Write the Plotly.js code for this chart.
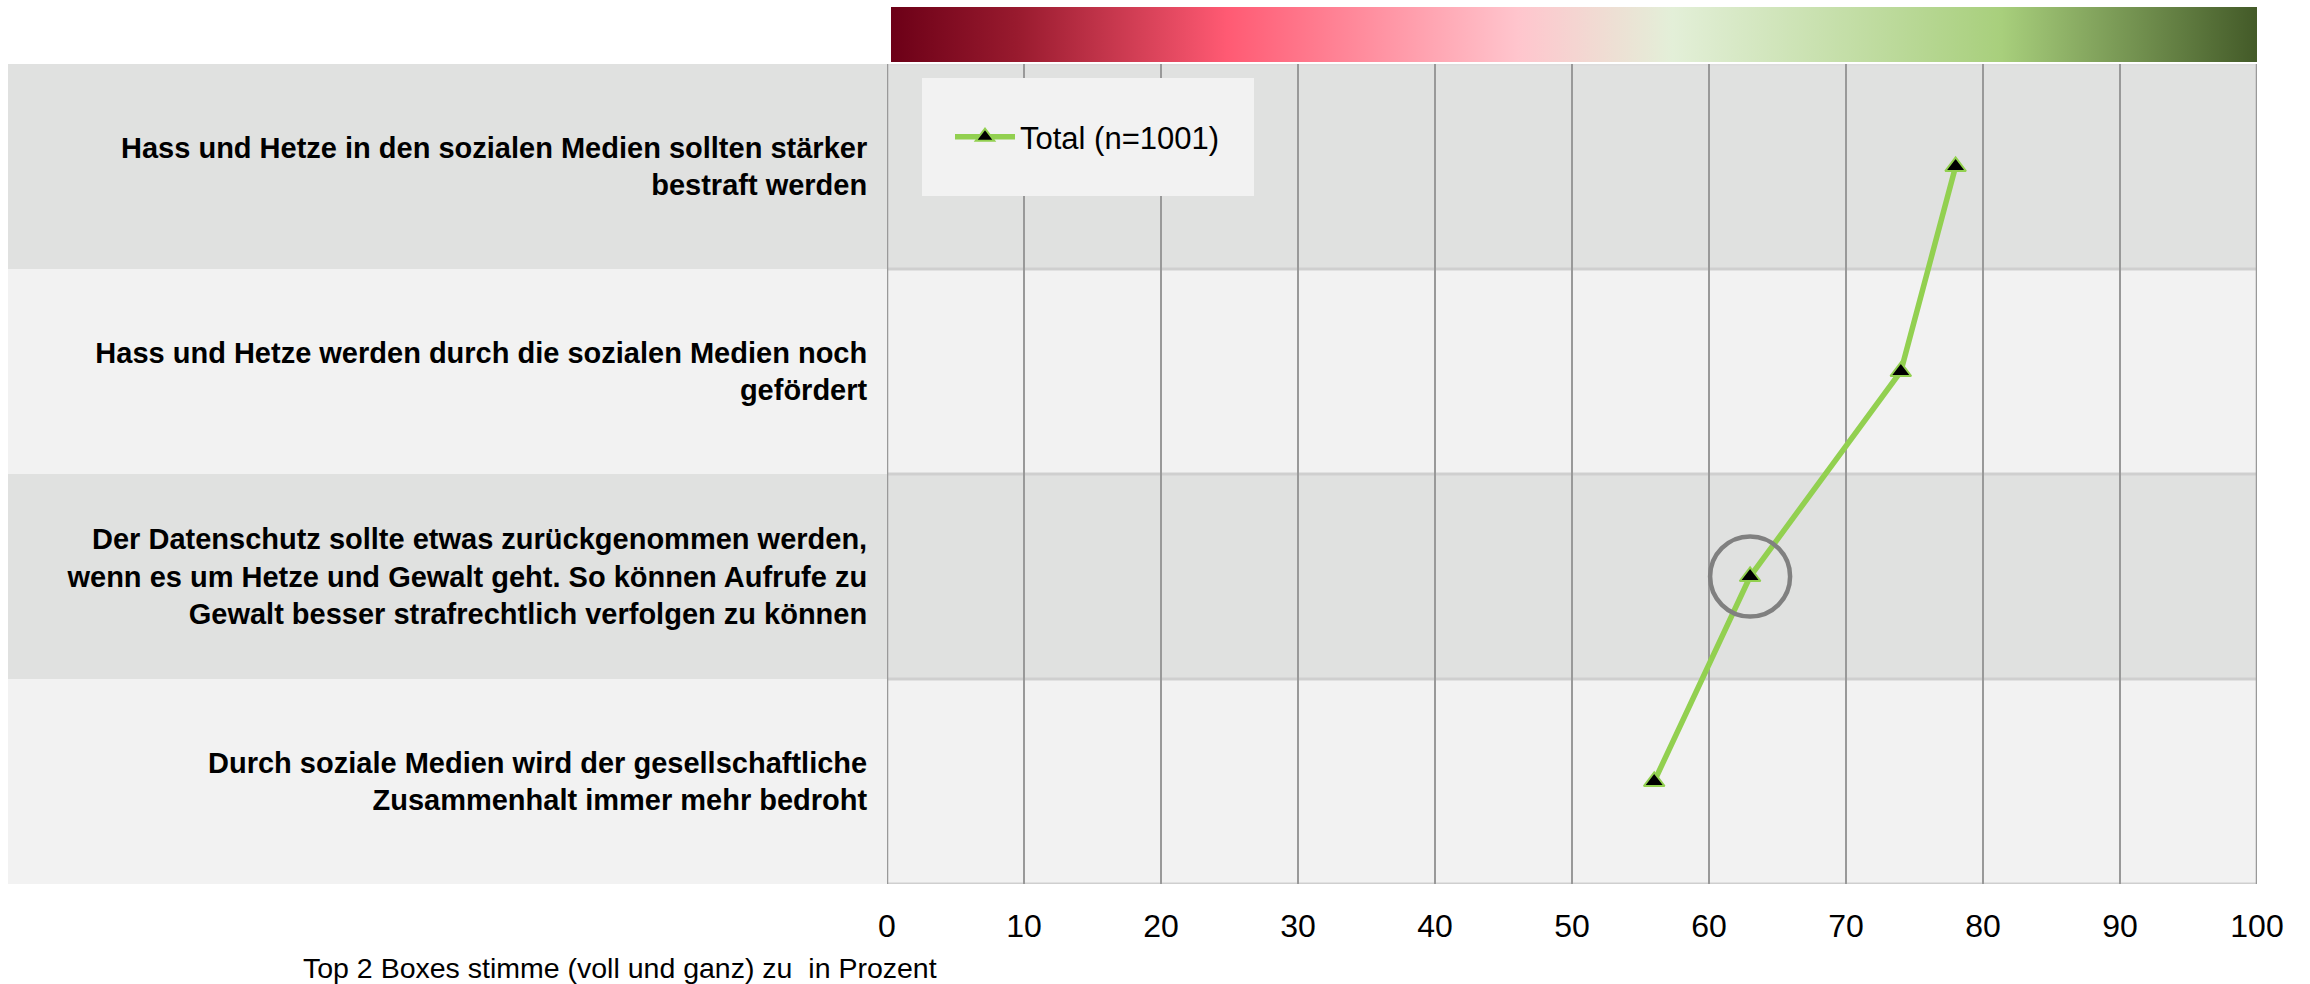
<!DOCTYPE html>
<html>
<head>
<meta charset="utf-8">
<script src="https://cdn.plot.ly/plotly-3.0.1.min.js"></script>
<style>
  html, body { margin: 0; padding: 0; background: #ffffff; }
  #chart { width: 2310px; height: 984px; }
</style>
</head>
<body>
<div id="chart"></div>
<script>
// ---- data ----
const categories = [
  "Hass und Hetze in den sozialen Medien sollten stärker<br>bestraft werden",
  "Hass und Hetze werden durch die sozialen Medien noch<br>gefördert",
  "Der Datenschutz sollte etwas zurückgenommen werden,<br>wenn es um Hetze und Gewalt geht. So können Aufrufe zu<br>Gewalt besser strafrechtlich verfolgen zu können",
  "Durch soziale Medien wird der gesellschaftliche<br>Zusammenhalt immer mehr bedroht"
];
const totalValues = [78, 74, 63, 56];
const seriesName = "Total (n=1001)";
const xTickValues = [0, 10, 20, 30, 40, 50, 60, 70, 80, 90, 100];
const axisTitle = "Top 2 Boxes stimme (voll und ganz) zu  in Prozent";
const highlightIndex = 2;

// ---- geometry (pixels) ----
const W = 2310, H = 984;
const L = 887, R = 2257, T = 64, B = 884;
const pw = R - L, ph = B - T;
const px = v => (v - L) / pw;
const py = v => (B - v) / ph;

// gradient bar image
const cv = document.createElement('canvas');
cv.width = 1366; cv.height = 55;
const ctx = cv.getContext('2d');
const g = ctx.createLinearGradient(0, 0, 1366, 0);
g.addColorStop(0.0, '#6c0017');
g.addColorStop(0.092, '#981a2e');
g.addColorStop(0.246, '#ff5a73');
g.addColorStop(0.459, '#ffc5cd');
g.addColorStop(0.572, '#e3efd8');
g.addColorStop(0.813, '#a8cf7c');
g.addColorStop(1.0, '#435a28');
ctx.fillStyle = g;
ctx.fillRect(0, 0, 1366, 55);
const gradURL = cv.toDataURL('image/png');

const FONT = 'Liberation Sans, Arial, sans-serif';
const GRID = '#999999';

const shapes = [];
// row bands
categories.forEach((c, i) => {
  shapes.push({
    type: 'rect', layer: 'below', xref: 'paper', yref: 'y',
    x0: px(8), x1: 1, y0: i - 0.5, y1: i + 0.5,
    fillcolor: i % 2 === 0 ? '#e0e1e0' : '#f2f2f2',
    line: { width: 0 }
  });
});
// band separators (plot area only)
for (let i = 0; i <= categories.length; i++) {
  shapes.push({
    type: 'line', layer: 'below', xref: 'paper', yref: 'y',
    x0: 0, x1: 1, y0: i - 0.5, y1: i - 0.5,
    line: { color: i === 0 ? '#dcdcdc' : '#cfcfcf', width: 3 }
  });
}
// edge gridlines at 0 and 100
[xTickValues[0], xTickValues[xTickValues.length - 1]].forEach(v => {
  shapes.push({
    type: 'line', layer: 'below', xref: 'x', yref: 'paper',
    x0: v, x1: v, y0: 0, y1: 1,
    line: { color: GRID, width: 2.5 }
  });
});
// legend background box
shapes.push({
  type: 'rect', layer: 'above', xref: 'paper', yref: 'paper',
  x0: px(922), x1: px(1254), y0: py(196), y1: py(78),
  fillcolor: '#f2f2f2', line: { width: 0 }
});
// highlight circle
shapes.push({
  type: 'circle', layer: 'above', xref: 'x', yref: 'y',
  xsizemode: 'pixel', ysizemode: 'pixel',
  xanchor: totalValues[highlightIndex], yanchor: highlightIndex,
  x0: -40, x1: 40, y0: -40, y1: 40,
  line: { color: '#808080', width: 4.5 }
});

const trace = {
  type: 'scatter', mode: 'lines+markers',
  name: seriesName,
  x: totalValues, y: categories,
  line: { color: '#92d050', width: 5.5 },
  marker: { symbol: 'triangle-up', size: 18, color: '#000000', line: { color: '#92d050', width: 2 } },
  showlegend: true,
  hoverinfo: 'x+y'
};

const layout = {
  width: W, height: H,
  margin: { l: L, r: W - R, t: T, b: H - B, pad: 0 },
  paper_bgcolor: '#ffffff',
  plot_bgcolor: 'rgba(0,0,0,0)',
  font: { family: FONT, color: '#000000', size: 30 },
  showlegend: true,
  legend: {
    x: px(950), xanchor: 'left', y: py(137), yanchor: 'middle',
    bgcolor: 'rgba(0,0,0,0)', borderwidth: 0, itemwidth: 60,
    font: { family: FONT, size: 31, color: '#000000' }
  },
  xaxis: {
    range: [0, 100], tickvals: xTickValues, ticktext: xTickValues.map(String),
    showgrid: true, gridcolor: GRID, gridwidth: 2.5,
    zeroline: false, showline: false,
    ticks: 'outside', ticklen: 14, tickcolor: 'rgba(0,0,0,0)',
    tickfont: { family: FONT, size: 32, color: '#000000' },
    fixedrange: true
  },
  yaxis: {
    type: 'category', categoryorder: 'array', categoryarray: categories,
    range: [categories.length - 0.5, -0.5],
    showgrid: false, zeroline: false, showline: false,
    ticks: 'outside', ticklen: 13, tickcolor: 'rgba(0,0,0,0)',
    tickfont: { family: FONT, size: 29, color: '#000000', weight: 'bold' },
    fixedrange: true
  },
  shapes: shapes,
  images: [{
    source: gradURL, xref: 'paper', yref: 'paper',
    x: px(891), y: py(7), sizex: px(2257) - px(891), sizey: py(7) - py(62),
    xanchor: 'left', yanchor: 'top', sizing: 'stretch', layer: 'above'
  }],
  annotations: [{
    text: axisTitle, xref: 'paper', yref: 'paper',
    x: px(301), xanchor: 'left', y: py(968), yanchor: 'middle',
    showarrow: false, font: { family: FONT, size: 28.5, color: '#000000' }
  }]
};

Plotly.newPlot('chart', [trace], layout, { displayModeBar: false, staticPlot: true });
</script>
</body>
</html>
